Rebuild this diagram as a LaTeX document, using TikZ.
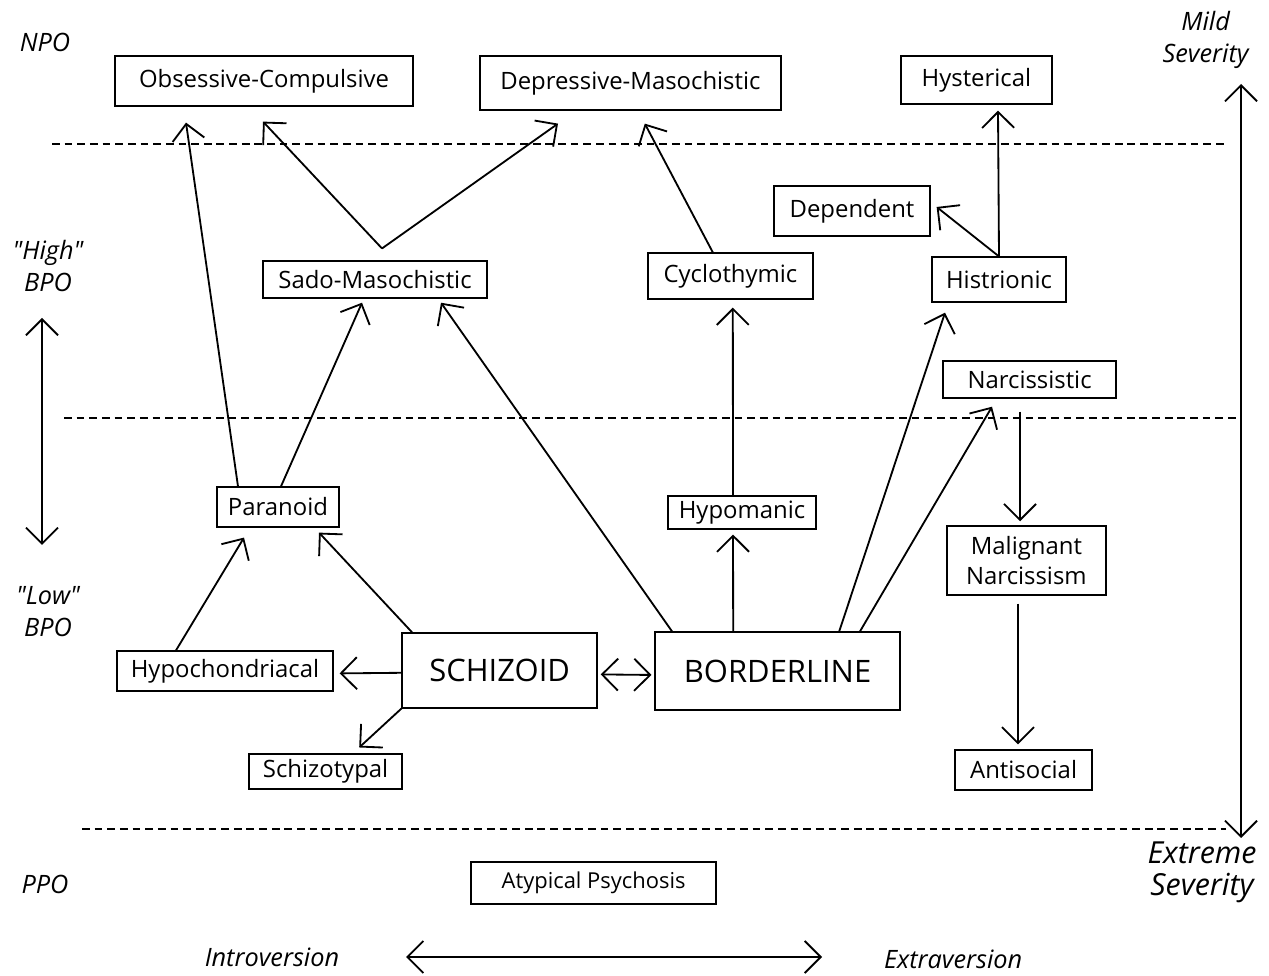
\documentclass[tikz,border=0pt]{standalone}
\usepackage{fontspec}
\setmainfont{Open Sans}[Ligatures=TeXOff]
\usetikzlibrary{arrows.meta,calc,positioning}
\definecolor{ink}{HTML}{000000}
\tikzset{
  every node/.style={font=\fontsize{17}{21}\selectfont,text=ink},
  box/.style={draw=ink,line width=.9pt,align=center,inner sep=0pt},
  big/.style={font=\fontsize{22}{26}\selectfont},
  small/.style={font=\fontsize{15.6}{19}\selectfont},
  axis/.style={font=\itshape\fontsize{18}{22.8}\selectfont,align=center},
  farend/.style={font=\itshape\fontsize{21.6}{22.8}\selectfont,align=center},
  arr/.style={-{Straight Barb[length=4mm,width=8mm]},line width=1.3pt,draw=ink},
  twoway/.style={{Straight Barb[length=4mm,width=8mm]}-{Straight Barb[length=4mm,width=8mm]},line width=1.3pt,draw=ink},
  divider/.style={line width=1.2pt,draw=ink,dash pattern=on 5.5pt off 3.5pt},
}

\begin{document}
\begin{tikzpicture}[x=1cm,y=1cm]
\path[use as bounding box] (0,0) rectangle (31.725,24.4);
\fill[white] (0,0) rectangle (31.725,24.4);
% organisation levels
\draw[divider] (1.3,20.8)--(30.7,20.8);
\draw[divider] (1.6,13.95)--(31.0,13.95);
\draw[divider] (2.05,3.675)--(30.65,3.675);
\node[axis] (npo) at (1.125,23.35) {NPO};
\node[axis] (hbpo) at (1.2,17.75) {"High"\\BPO};
\node[axis] (lbpo) at (1.2,9.1) {"Low"\\BPO};
\node[axis] (ppo) at (1.125,2.3) {PPO};
\node[axis] (mild) at (30.14,23.4) {Mild\\Severity};
\node[farend] (extreme) at (30.05,2.6) {Extreme\\Severity};
\node[axis] (intro) at (6.8,0.47) {Introversion};
\node[axis] (extra) at (23.83,0.42) {Extraversion};
\coordinate (bpotop) at (1.05,16.45);
\coordinate (bpobot) at (1.05,10.775);
\coordinate (sevtop) at (31.025,22.3);
\coordinate (sevbot) at (31.025,3.45);
\coordinate (introend) at (10.15,0.475);
\coordinate (extraend) at (20.55,0.475);
\draw[twoway] (bpotop)--(bpobot);
\draw[twoway] (sevtop)--(sevbot);
\draw[twoway] (introend)--(extraend);
% neurotic level
\node[box,minimum width=7.45cm,minimum height=1.25cm] (obs) at (6.60,22.375) {Obsessive-Compulsive};
\node[box,minimum width=7.525cm,minimum height=1.35cm] (depm) at (15.76,22.325) {Depressive-Masochistic};
\node[box,minimum width=3.775cm,minimum height=1.2cm] (hyst) at (24.41,22.40) {Hysterical};
% high borderline level
\node[box,minimum width=3.9cm,minimum height=1.25cm] (dep) at (21.30,19.125) {Dependent};
\node[box,minimum width=5.6cm,minimum height=.925cm] (sado) at (9.375,17.41) {Sado-Masochistic};
\node[box,minimum width=4.125cm,minimum height=1.15cm] (cyc) at (18.26,17.50) {Cyclothymic};
\node[box,minimum width=3.35cm,minimum height=1.125cm] (hist) at (24.975,17.41) {Histrionic};
\node[box,minimum width=4.325cm,minimum height=.925cm] (narc) at (25.74,14.91) {Narcissistic};
% low borderline level
\node[box,minimum width=3.05cm,minimum height=1cm] (para) at (6.95,11.725) {Paranoid};
\node[box,minimum width=3.7cm,minimum height=.825cm] (hypo) at (18.55,11.59) {Hypomanic};
\node[box,minimum width=3.975cm,minimum height=1.725cm] (malig) at (25.66,10.39) {Malignant\\Narcissism};
\node[box,big,minimum width=4.875cm,minimum height=1.875cm] (schiz) at (12.49,7.64) {SCHIZOID};
\node[box,big,minimum width=6.125cm,minimum height=1.95cm] (bord) at (19.44,7.625) {BORDERLINE};
\node[box,minimum width=5.4cm,minimum height=1cm] (hypoch) at (5.625,7.625) {Hypochondriacal};
\node[box,minimum width=3.825cm,minimum height=.875cm] (stypal) at (8.14,5.11) {Schizotypal};
\node[box,minimum width=3.425cm,minimum height=1cm] (anti) at (25.59,5.15) {Antisocial};
% psychotic level
\node[box,small,minimum width=6.125cm,minimum height=1.05cm] (atyp) at (14.84,2.325) {Atypical Psychosis};
% connectors
\coordinate (sm) at ([xshift=.175cm,yshift=.3cm]sado.north);
\draw[arr] ([xshift=-1cm]para.north) -- ([xshift=-1.95cm,yshift=-.4cm]obs.south);
\draw[arr] (sm) -- ([xshift=-.025cm,yshift=-.375cm]obs.south);
\draw[arr] (sm) -- ([xshift=-1.81cm,yshift=-.325cm]depm.south);
\draw[arr] ([xshift=-.44cm]cyc.north) -- ([xshift=.36cm,yshift=-.325cm]depm.south);
\draw[arr] (hist.north) -- ([xshift=.54cm,yshift=-.15cm]hyst.south);
\draw[arr] (hist.north) -- ([xshift=.15cm,yshift=.1cm]dep.east);
\draw[arr] ([xshift=.075cm]para.north) -- ([xshift=-.325cm,yshift=-.1cm]sado.south);
\draw[arr] ([xshift=-2.64cm]bord.north) -- ([xshift=1.65cm,yshift=-.1cm]sado.south);
\draw[arr] ([xshift=-1.11cm]bord.north) -- ([xshift=-.225cm,yshift=-.125cm]hypo.south);
\draw[arr] ([xshift=-.225cm]hypo.north) -- ([xshift=.06cm,yshift=-.2cm]cyc.south);
\draw[arr] ([xshift=1.54cm]bord.north) -- ([xshift=-1.35cm,yshift=-.25cm]hist.south);
\draw[arr] ([xshift=2.06cm]bord.north) -- ([xshift=-.94cm,yshift=-.2cm]narc.south);
\draw[arr] ([xshift=-.24cm,yshift=-.325cm]narc.south) -- ([xshift=-.16cm,yshift=.1cm]malig.north);
\draw[arr] ([xshift=-.21cm,yshift=-.2cm]malig.south) -- ([xshift=-.14cm,yshift=.125cm]anti.north);
\draw[arr] ([xshift=-2.19cm]schiz.north) -- ([xshift=1.025cm,yshift=-.125cm]para.south);
\draw[arr] ([xshift=-1.225cm]hypoch.north) -- ([xshift=-.85cm,yshift=-.25cm]para.south);
\draw[arr] ([yshift=-.06cm]schiz.west) -- ([xshift=.15cm,yshift=-.06cm]hypoch.east);
\draw[arr] (schiz.south west) -- ([xshift=.84cm,yshift=.15cm]stypal.north);
\draw[twoway,shorten <=.075cm,shorten >=.075cm] ([yshift=-.1cm]schiz.east) -- ([yshift=-.1cm]bord.west);
\end{tikzpicture}
\end{document}
